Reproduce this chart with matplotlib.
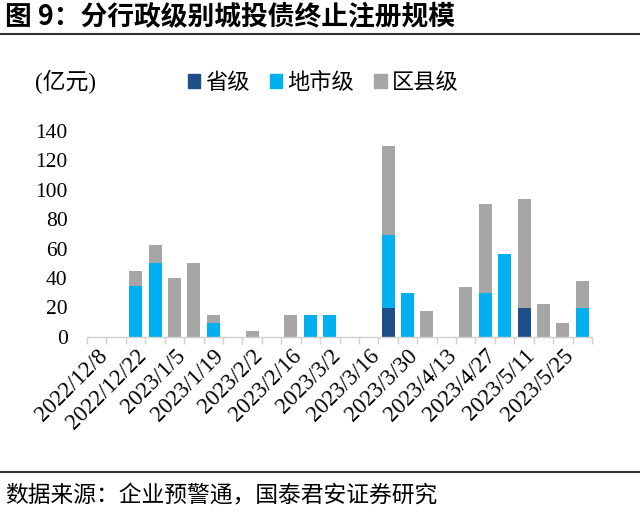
import numpy as np
import matplotlib
matplotlib.use('Agg')
import matplotlib.pyplot as plt
from matplotlib.patches import Patch

plt.rcParams['font.family'] = ['Liberation Serif', 'Noto Sans CJK SC', 'DejaVu Sans']

# weekly dates (every other one labelled)
dates = ['2022/12/8', '2022/12/15', '2022/12/22', '2022/12/29', '2023/1/5', '2023/1/12',
         '2023/1/19', '2023/1/26', '2023/2/2', '2023/2/9', '2023/2/16', '2023/2/23',
         '2023/3/2', '2023/3/9', '2023/3/16', '2023/3/23', '2023/3/30', '2023/4/6',
         '2023/4/13', '2023/4/20', '2023/4/27', '2023/5/4', '2023/5/11', '2023/5/18',
         '2023/5/25', '2023/6/1']
# 亿元
sheng = [0, 0, 0, 0, 0, 0, 0, 0, 0, 0, 0, 0, 0, 0, 0, 19.5, 0, 0, 0, 0, 0, 0, 19.5, 0, 0, 0]
dishi = [0, 0, 34.5, 50, 0, 0, 9.5, 0, 0, 0, 0, 14.5, 14.5, 0, 0, 49.5, 29.5, 0, 0, 0, 29.5, 56, 0, 0, 0, 19.5]
quxian = [0, 0, 10.5, 12.5, 40, 50, 5, 0, 4, 0, 14.5, 0, 0, 0, 0, 60.5, 0, 17.5, 0, 34, 61, 0, 74, 22, 9.5, 18.5]

c_sheng = '#1f4e88'
c_dishi = '#00b0f0'
c_quxian = '#a6a6a6'

fig = plt.figure(figsize=(6.4, 5.14), dpi=100)
ax = fig.add_axes([0.136, 0.345, 0.789, 0.40])

x = np.arange(len(dates))
s = np.array(sheng)
d = np.array(dishi)
q = np.array(quxian)
w = 0.67
ax.bar(x, s, w, color=c_sheng)
ax.bar(x, d, w, bottom=s, color=c_dishi)
ax.bar(x, q, w, bottom=s + d, color=c_quxian)

ax.set_xlim(-0.5, len(dates) - 0.5)
ax.set_ylim(0, 140)
ax.set_yticks(np.arange(0, 141, 20))
ax.tick_params(axis='y', length=0, labelsize=15.5, pad=14)

ax.set_xticks(x[::2])
ax.set_xticklabels(dates[::2], rotation=45, ha='right', rotation_mode='anchor', fontsize=16.5)
ax.tick_params(axis='x', which='major', length=0, pad=6)
ax.set_xticks(np.arange(len(dates) + 1) - 0.5, minor=True)
ax.tick_params(axis='x', which='minor', length=5, color='#d0d0d0', width=1)

for sp in ['top', 'right', 'left']:
    ax.spines[sp].set_visible(False)
ax.spines['bottom'].set_color('#d0d0d0')
ax.spines['bottom'].set_linewidth(1)

fig.text(0.055, 0.84, '(亿元)', fontsize=16.5, va='center',
         family=['Liberation Serif', 'Noto Sans CJK SC'])

handles = [Patch(color=c_sheng), Patch(color=c_dishi), Patch(color=c_quxian)]
fig.legend(handles, ['省级', '地市级', '区县级'], loc='center left', bbox_to_anchor=(0.262, 0.84),
           ncol=3, frameon=False, handlelength=0.55, handleheight=0.55,
           handletextpad=0.25, columnspacing=0.9, prop={'family': 'Noto Sans CJK SC', 'size': 16})

# title and source
fig.text(0.008, 0.966, '图 9：分行政级别城投债终止注册规模', fontsize=19.3, fontweight='bold',
         va='center', family=['Noto Sans CJK SC'])
fig.add_artist(plt.Line2D([0, 1], [0.933, 0.933], color='#333333', lw=1.5))
fig.add_artist(plt.Line2D([0, 1], [0.082, 0.082], color='#333333', lw=1.5))
fig.text(0.008, 0.035, '数据来源：企业预警通，国泰君安证券研究', fontsize=16.4, va='center',
         family=['Noto Sans CJK SC'])

fig.savefig('out.png', dpi=100)
